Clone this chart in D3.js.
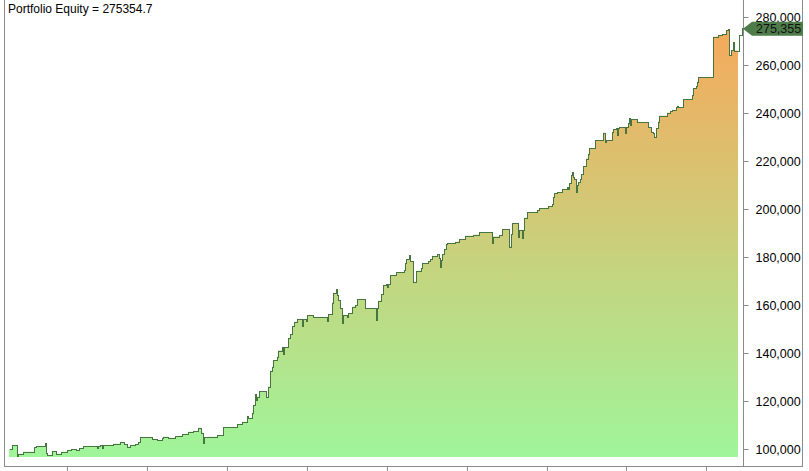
<!DOCTYPE html>
<html lang="en">
<head>
    <meta charset="UTF-8" />
    <title>Portfolio Equity</title>
    <script src="https://d3js.org/d3.v7.min.js"></script>
    <style>
        body {
            margin: 0;
            background: #ffffff;
            font-family: Arial, "Liberation Sans", sans-serif;
        }
        svg {
            display: block;
        }
    </style>
</head>
<body>
<div id="chart"></div>

<script>
    // Equity curve as steps: bar number where the equity changes, and the new equity value
    const stepBars = [
        0, 3, 8, 9, 14, 25, 27, 36, 37, 38, 43, 47, 52, 58, 62, 67, 70, 74, 88, 89,
        91, 93, 94, 104, 111, 115, 118, 121, 126, 129, 131, 143, 148, 153, 154, 159, 166, 173, 179, 184,
        189, 192, 194, 195, 199, 208, 214, 228, 233, 238, 239, 243, 244, 246, 247, 248, 250, 257, 259, 261,
        263, 264, 268, 269, 273, 274, 275, 279, 281, 283, 285, 288, 293, 294, 297, 298, 304, 318, 319, 323,
        324, 327, 328, 329, 331, 333, 334, 338, 339, 343, 346, 348, 356, 367, 368, 369, 372, 374, 377, 378,
        379, 381, 387, 395, 396, 397, 400, 401, 404, 407, 412, 413, 419, 421, 423, 428, 430, 431, 432, 433,
        435, 437, 438, 446, 450, 456, 464, 470, 483, 484, 490, 493, 500, 502, 503, 509, 510, 513, 514, 515,
        518, 528, 530, 539, 543, 544, 545, 548, 553, 558, 559, 560, 562, 563, 564, 565, 567, 568, 569, 571,
        572, 574, 577, 579, 580, 586, 594, 596, 597, 603, 604, 607, 608, 609, 610, 616, 617, 619, 620, 621,
        622, 628, 639, 642, 644, 645, 647, 649, 650, 658, 661, 663, 667, 668, 669, 674, 683, 684, 687, 688,
        689, 704, 709, 713, 717, 719, 720, 722, 724, 725, 729, 730, 733, 734
    ];
    const stepEquity = [
        100000, 101500, 97000, 98000, 98900, 100800, 101100, 102400, 98500, 97500, 99200, 98000, 98900, 99500, 99900, 99600, 100300, 101100, 100300, 101100,
        101700, 100400, 101500, 102200, 102800, 102000, 101000, 101700, 102100, 102900, 104900, 104000, 103600, 104500, 105100, 104700, 105400, 106200, 107200, 107500,
        108900, 106800, 102400, 104900, 105100, 105700, 109000, 110400, 111400, 113900, 112800, 115100, 118300, 122800, 120500, 121800, 124000, 121800, 126000, 132600,
        134300, 137100, 138500, 141000, 142400, 139600, 142400, 146100, 147900, 151200, 153000, 154000, 151200, 154000, 153500, 155700, 154900, 153500, 156100, 161000,
        164900, 166500, 164200, 162100, 158600, 152400, 155800, 155100, 156500, 159300, 160000, 162400, 158600, 153800, 158600, 161800, 164600, 168300, 168800, 167600,
        168800, 172500, 173600, 174600, 177400, 179200, 180800, 178300, 169700, 174300, 175300, 177400, 178300, 179000, 180400, 181100, 179500, 176000, 178700, 181100,
        183200, 185300, 185700, 186400, 187400, 188900, 189300, 190300, 185700, 188500, 189200, 191500, 184300, 189400, 194000, 188500, 191300, 187800, 191300, 196400,
        198600, 199600, 200300, 201200, 202100, 205100, 206500, 206900, 208200, 209200, 208200, 210700, 214200, 215300, 213500, 212400, 207200, 210000, 211100, 212400,
        214600, 217900, 221000, 223000, 225300, 228800, 231800, 228000, 228800, 232200, 233200, 233600, 230800, 233600, 234000, 231500, 234300, 235700, 237800, 235000,
        237300, 236100, 234000, 232200, 231500, 230100, 233600, 236400, 238900, 240100, 240800, 241200, 242400, 243000, 242400, 245700, 247500, 250300, 251200, 253000,
        254900, 271800, 272500, 272900, 274600, 274900, 264000, 266200, 269700, 266000, 266000, 272500, 275355, 275355
    ];
    const yTicks = [100000, 120000, 140000, 160000, 180000, 200000, 220000, 240000, 260000, 280000];
    const xTickBars = [58, 138, 218, 298, 378, 458, 538, 617, 697];
    const lastEquity = 275354.7;
    const fillEndBar = 729;

    const width = 809;
    const height = 471;

    const data = stepBars.map((b, i) => ({ bar: b, value: stepEquity[i] }));

    const svg = d3.select("#chart").append("svg")
        .attr("width", width)
        .attr("height", height);

    // Scales: bars along x, equity on the right-hand y axis
    const xScale = d3.scaleLinear().domain([0, 734]).range([9, 743]);
    const yScale = d3.scaleLinear().domain([100000, 280000]).range([449, 17]);
    const fillBottom = 457;

    // Vertical gradient, green at the bottom to orange at the top
    const grad = svg.append("defs").append("linearGradient")
        .attr("id", "equityFill")
        .attr("gradientUnits", "userSpaceOnUse")
        .attr("x1", 0).attr("y1", fillBottom)
        .attr("x2", 0).attr("y2", 17);
    grad.append("stop").attr("offset", 0).attr("stop-color", "#9ff59a");
    grad.append("stop").attr("offset", 1).attr("stop-color", "#f8a75a");

    const area = d3.area()
        .curve(d3.curveStepAfter)
        .x(d => xScale(d.bar))
        .y0(fillBottom)
        .y1(d => yScale(d.value));

    const line = d3.line()
        .curve(d3.curveStepAfter)
        .x(d => xScale(d.bar))
        .y(d => yScale(d.value));

    svg.append("path")
        .datum(data.filter(d => d.bar <= fillEndBar))
        .attr("d", area)
        .attr("fill", "url(#equityFill)");

    svg.append("path")
        .datum(data)
        .attr("d", line)
        .attr("fill", "none")
        .attr("stroke", "#46753f")
        .attr("stroke-width", 1)
        .attr("transform", "translate(0.5,0.5)")
        .attr("shape-rendering", "crispEdges");

    // Frame lines
    const frame = svg.append("g")
        .attr("stroke", "#8a8a8a")
        .attr("stroke-width", 1)
        .attr("shape-rendering", "crispEdges");
    frame.append("line").attr("x1", 4.5).attr("x2", 4.5).attr("y1", 0).attr("y2", 466.5);
    frame.append("line").attr("x1", 4.5).attr("x2", 802.5).attr("y1", 466.5).attr("y2", 466.5);
    frame.append("line").attr("x1", 802.5).attr("x2", 802.5).attr("y1", 0).attr("y2", 466.5);
    frame.append("line").attr("x1", 743.5).attr("x2", 743.5).attr("y1", 0).attr("y2", 466.5);

    // Right axis
    const yAxis = d3.axisRight(yScale)
        .tickValues(yTicks)
        .tickSize(5)
        .tickPadding(7)
        .tickFormat(d3.format(","));

    const gY = svg.append("g")
        .attr("transform", "translate(743.5,0)")
        .call(yAxis);
    gY.select(".domain").remove();
    gY.selectAll(".tick line").attr("stroke", "#8a8a8a");
    gY.selectAll(".tick text")
        .attr("fill", "#000")
        .style("font-family", "Arial, 'Liberation Sans', sans-serif")
        .style("font-size", "12.5px");

    // Bottom axis, ticks only
    const xAxis = d3.axisBottom(xScale)
        .tickValues(xTickBars)
        .tickSize(6)
        .tickFormat("");

    const gX = svg.append("g")
        .attr("transform", "translate(0,466.5)")
        .call(xAxis);
    gX.select(".domain").remove();
    gX.selectAll(".tick line").attr("stroke", "#8a8a8a");

    // Last value marker on the axis
    const yLast = yScale(lastEquity) + 0.5;
    const marker = svg.append("g");
    marker.append("path")
        .attr("d", `M743,${yLast} L752,${yLast - 7} L803,${yLast - 7} L803,${yLast + 7} L752,${yLast + 7} Z`)
        .attr("fill", "#4e7b4a");
    marker.append("text")
        .attr("x", 756)
        .attr("y", yLast)
        .attr("dy", "0.36em")
        .attr("fill", "#111")
        .style("font-size", "12.5px")
        .text(d3.format(",.0f")(lastEquity));

    // Title
    svg.append("text")
        .attr("x", 8)
        .attr("y", 13)
        .attr("fill", "#000")
        .style("font-size", "12px")
        .text("Portfolio Equity = " + lastEquity);
</script>
</body>
</html>
